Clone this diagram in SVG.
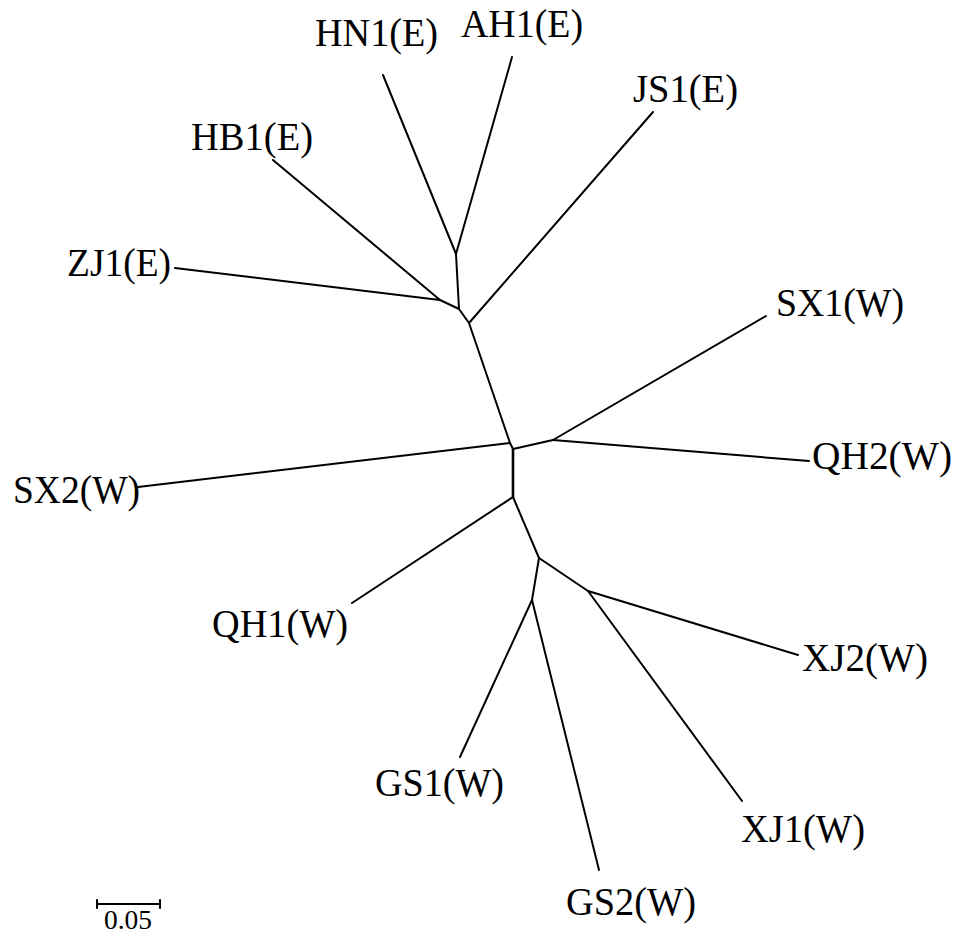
<svg xmlns="http://www.w3.org/2000/svg" width="957" height="936" viewBox="0 0 957 936">
<style>
.e{stroke:#000;stroke-width:2;fill:none;stroke-linecap:round}
.l{font-family:"Liberation Serif","Times New Roman",serif;font-size:40px;fill:#000}
.s{font-family:"Liberation Serif","Times New Roman",serif;font-size:28px;fill:#000}
</style>
<rect width="957" height="936" fill="#fff"/>
<g id="connectors">
<line class="e" x1="456" y1="254" x2="383" y2="75"/>
<line class="e" x1="456" y1="254" x2="512" y2="57"/>
<line class="e" x1="456" y1="254" x2="459" y2="309"/>
<line class="e" x1="440" y1="300" x2="273" y2="160"/>
<line class="e" x1="440" y1="300" x2="175" y2="268"/>
<line class="e" x1="440" y1="300" x2="459" y2="309"/>
<line class="e" x1="459" y1="309" x2="469" y2="323"/>
<line class="e" x1="469" y1="323" x2="653" y2="112"/>
<line class="e" x1="469" y1="323" x2="510" y2="443"/>
<line class="e" x1="510" y1="443" x2="138" y2="487"/>
<line class="e" x1="510" y1="443" x2="513" y2="449"/>
<line class="e" x1="513" y1="449" x2="553" y2="440"/>
<line class="e" x1="553" y1="440" x2="766" y2="316"/>
<line class="e" x1="553" y1="440" x2="809" y2="461"/>
<line class="e" x1="513" y1="449" x2="513" y2="497" style="stroke-width:2.6"/>
<line class="e" x1="513" y1="497" x2="352" y2="603"/>
<line class="e" x1="513" y1="497" x2="539" y2="558"/>
<line class="e" x1="539" y1="558" x2="588" y2="591"/>
<line class="e" x1="588" y1="591" x2="798" y2="655"/>
<line class="e" x1="588" y1="591" x2="742" y2="801"/>
<line class="e" x1="539" y1="558" x2="532" y2="600"/>
<line class="e" x1="532" y1="600" x2="460" y2="757"/>
<line class="e" x1="532" y1="600" x2="599" y2="870"/>
</g>
<g id="HN1"><text class="l" x="315" y="46" textLength="123" lengthAdjust="spacingAndGlyphs">HN1(E)</text></g>
<g id="AH1"><text class="l" x="461" y="37" textLength="122" lengthAdjust="spacingAndGlyphs">AH1(E)</text></g>
<g id="JS1"><text class="l" x="633" y="102" textLength="105" lengthAdjust="spacingAndGlyphs">JS1(E)</text></g>
<g id="HB1"><text class="l" x="191" y="150" textLength="122" lengthAdjust="spacingAndGlyphs">HB1(E)</text></g>
<g id="ZJ1"><text class="l" x="67" y="276" textLength="104" lengthAdjust="spacingAndGlyphs">ZJ1(E)</text></g>
<g id="SX1"><text class="l" x="776" y="316" textLength="128" lengthAdjust="spacingAndGlyphs">SX1(W)</text></g>
<g id="QH2"><text class="l" x="812" y="469" textLength="140" lengthAdjust="spacingAndGlyphs">QH2(W)</text></g>
<g id="SX2"><text class="l" x="13" y="503" textLength="127" lengthAdjust="spacingAndGlyphs">SX2(W)</text></g>
<g id="QH1"><text class="l" x="212" y="637" textLength="136" lengthAdjust="spacingAndGlyphs">QH1(W)</text></g>
<g id="XJ2"><text class="l" x="802" y="671" textLength="126" lengthAdjust="spacingAndGlyphs">XJ2(W)</text></g>
<g id="XJ1"><text class="l" x="741" y="842" textLength="124" lengthAdjust="spacingAndGlyphs">XJ1(W)</text></g>
<g id="GS1"><text class="l" x="375" y="796" textLength="129" lengthAdjust="spacingAndGlyphs">GS1(W)</text></g>
<g id="GS2"><text class="l" x="566" y="915" textLength="130" lengthAdjust="spacingAndGlyphs">GS2(W)</text></g>
<g id="scalebar">
<path class="e" d="M97 904H160M97 900V908M160 900V908"/>
<text class="s" x="104" y="929" textLength="48" lengthAdjust="spacingAndGlyphs">0.05</text>
</g>
</svg>
